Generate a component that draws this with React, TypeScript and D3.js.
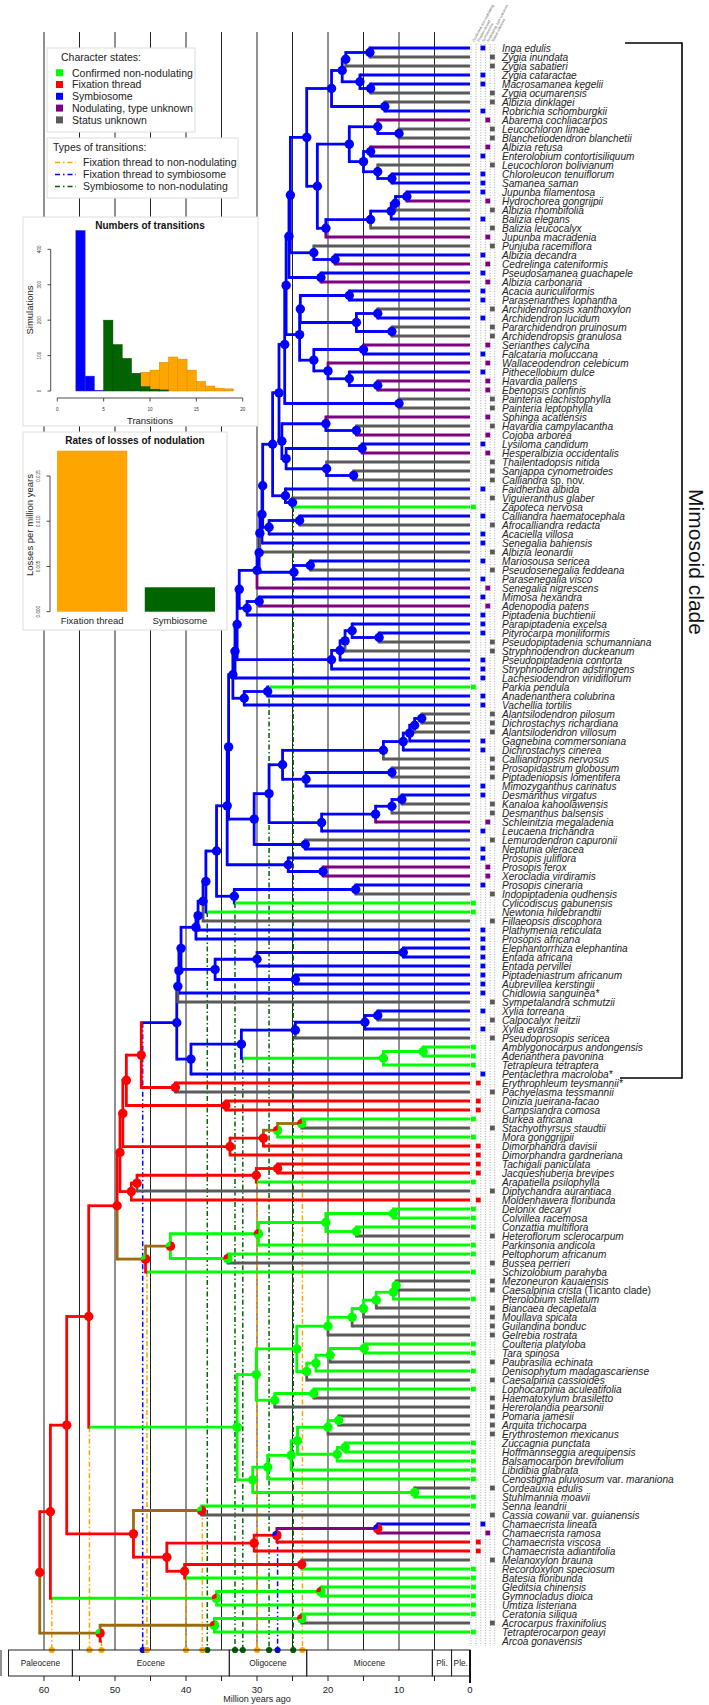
import React from "react";
import * as d3 from "d3";

// ---------------- DATA ----------------
const taxa = [
  "Inga edulis","Zygia inundata","Zygia sabatieri","Zygia cataractae","Macrosamanea kegelii","Zygia ocumarensis","Albizia dinklagei","Robrichia schomburgkii","Abarema cochliacarpos","Leucochloron limae",
  "Blanchetiodendron blanchetii","Albizia retusa","Enterolobium contortisiliquum","Leucochloron bolivianum","Chloroleucon tenuiflorum","Samanea saman","Jupunba filamentosa","Hydrochorea gongrijpii","Albizia rhombifolia","Balizia elegans",
  "Balizia leucocalyx","Jupunba macradenia","Punjuba racemiflora","Albizia decandra","Cedrelinga cateniformis","Pseudosamanea guachapele","Albizia carbonaria","Acacia auriculiformis","Paraserianthes lophantha","Archidendropsis xanthoxylon",
  "Archidendron lucidum","Pararchidendron pruinosum","Archidendropsis granulosa","Serianthes calycina","Falcataria moluccana","Wallaceodendron celebicum","Pithecellobium dulce","Havardia pallens","Ebenopsis confinis","Painteria elachistophylla",
  "Painteria leptophylla","Sphinga acatlensis","Havardia campylacantha","Cojoba arborea","Lysiloma candidum","Hesperalbizia occidentalis","Thailentadopsis nitida","Sanjappa cynometroides","Calliandra sp. nov.","Faidherbia albida",
  "Viguieranthus glaber","Zapoteca nervosa","Calliandra haematocephala","Afrocalliandra redacta","Acaciella villosa","Senegalia bahiensis","Albizia leonardii","Mariosousa sericea","Pseudosenegalia feddeana","Parasenegalia visco",
  "Senegalia nigrescens","Mimosa hexandra","Adenopodia patens","Piptadenia buchtienii","Parapiptadenia excelsa","Pityrocarpa moniliformis","Pseudopiptadenia schumanniana","Stryphnodendron duckeanum","Pseudopiptadenia contorta","Stryphnodendron adstringens",
  "Lachesiodendron viridiflorum","Parkia pendula","Anadenanthera colubrina","Vachellia tortilis","Alantsilodendron pilosum","Dichrostachys richardiana","Alantsilodendron villosum","Gagnebina commersoniana","Dichrostachys cinerea","Calliandropsis nervosus",
  "Prosopidastrum globosum","Piptadeniopsis lomentifera","Mimozyganthus carinatus","Desmanthus virgatus","Kanaloa kahoolawensis","Desmanthus balsensis","Schleinitzia megaladenia","Leucaena trichandra","Lemurodendron capuronii","Neptunia oleracea",
  "Prosopis juliflora","Prosopis ferox","Xerocladia virdiramis","Prosopis cineraria","Indopiptadenia oudhensis","Cylicodiscus gabunensis","Newtonia hildebrandtii","Fillaeopsis discophora","Plathymenia reticulata","Prosopis africana",
  "Elephantorrhiza elephantina","Entada africana","Entada pervillei","Piptadeniastrum africanum","Aubrevillea kerstingii","Chidlowia sanguinea*","Sympetalandra schmutzii","Xylia torreana","Calpocalyx heitzii","Xylia evansii",
  "Pseudoprosopis sericea","Amblygonocarpus andongensis","Adenanthera pavonina","Tetrapleura tetraptera","Pentaclethra macroloba*","Erythrophleum teysmannii*","Pachyelasma tessmannii","Dinizia jueirana-facao","Campsiandra comosa","Burkea africana",
  "Stachyothyrsus staudtii","Mora gonggrijpii","Dimorphandra davisii","Dimorphandra gardneriana","Tachigali paniculata","Jacqueshuberia brevipes","Arapatiella psilophylla","Diptychandra aurantiaca","Moldenhawera floribunda","Delonix decaryi",
  "Colvillea racemosa","Conzattia multiflora","Heteroflorum sclerocarpum","Parkinsonia andicola","Peltophorum africanum","Bussea perrieri","Schizolobium parahyba","Mezoneuron kauaiensis","Caesalpinia crista (Ticanto clade)","Pterolobium stellatum",
  "Biancaea decapetala","Moullava spicata","Guilandina bonduc","Gelrebia rostrata","Coulteria platyloba","Tara spinosa","Paubrasilia echinata","Denisophytum madagascariense","Caesalpinia cassioides","Lophocarpinia aculeatifolia",
  "Haematoxylum brasiletto","Hererolandia pearsonii","Pomaria jamesii","Arquita trichocarpa","Erythrostemon mexicanus","Zuccagnia punctata","Hoffmannseggia arequipensis","Balsamocarpon brevifolium","Libidibia glabrata","Cenostigma pluviosum var. maraniona",
  "Cordeauxia edulis","Stuhlmannia moavii","Senna leandrii","Cassia cowanii var. guianensis","Chamaecrista lineata","Chamaecrista ramosa","Chamaecrista viscosa","Chamaecrista adiantifolia","Melanoxylon brauna","Recordoxylon speciosum",
  "Batesia floribunda","Gleditsia chinensis","Gymnocladus dioica","Umtiza listeriana","Ceratonia siliqua","Acrocarpus fraxinifolius","Tetrapterocarpon geayi","Arcoa gonavensis",
];

// n = confirmed non-nodulating, f = fixation thread, s = symbiosome, p = nodulating type unknown, u = status unknown
const tipStates = (
  "s u u s s u u s p u u p s u s s s p u s " +
  "u p u s p s p s s u s u u p s p s p p u " +
  "u p u p s p u u u s u n s u s s u s u s " +
  "p s p s s s u u s s s n s s u u u s s u " +
  "u u s s u u p s u s s p p s u n n u s s " +
  "s s s s s s u s u s u n n n s f u f f n " +
  "u n f f f f n u f n n n u n n u n u u n " +
  "u u u u n n u n u n u u u u u n n n n n " +
  "u n n u s p f f u n n n n n n u n"
).trim().split(/\s+/);

// Tree clades (Newick-like): leaves = taxon indices; internal label = [~stemColour] age(Ma) + state letters; "@age t" = transition on the stem
const ingaTop = "((((0,1)14.1s,2)17.5s,(3,(4,5)14s)15.5s)18s,(6,7)12s)19.5s";
const samaneaClade = "((8,(9,10)10s)13s,((11,12)14s,(13,(14,15)11s)13s)15s)17s";
const hydroClade = "(((((16,17)8.9s,18)10.5s,19)11.1s,20)14s,21)20.3s";
const cedrelClade = "(22,(23,24)19s)22s";
const pseudosamClade = "(25,26)21s";
const acaciaClade = "((27,28)17s,((29,30)13s,(31,32)11s)16s)23.9s";
const serianthesClade = "((33,34)15s,(35,(36,(37,38)13s)17s)20s)22s";
const painteriaClade = "(39,40)10s";
const lysilomaClade = "((41,(42,43)16s)20.3s,((44,45)15.2s,(46,(47,48)16.4s)20.2s)25.9s)26.5s";
const zapotecaClade = "(49,(50,51@24.9g)25s)26s";
const afrocalClade = "((52,53)24s,54)28.3s";
const senegaliaClade = "((57,58)22.5s,59)24.8s";
const mimosaClade = "((61,62)29.7s,63)31.4s";
const piptClade = "((((64,(65,66)12.8s)16.6s,67)17.6s,68)18.3s,69)19.5s";
const parkiaClade = "((71@28.3g,72)28.5s,73)31.8s";
const dichroClade = "(((((74,75)6.8s,76)7.8s,77)8.5s,78)9.4s,79)12.2s";
const prosopidClade = "((80,81)11s,82)23.1s";
const desmanClade = "((((83,84)9.6s,85)11s,86)13.3s,87)20.9s";
const neptClade = "(88,89)23.2s";
const prosFerox = "(90,(91,92)20.7s)25.6s";
const cylicClade = "((93,94)16.1s,95@33.1g)33.2s";
const entadaClade = "(((100,101)9.4s,102)30s,(103,104)24.6s)35.9s";
const xyliaClade = "(((107,108)13s,109)14.8s,110)24.6s";
const adenClade = "((111,112)6.6n,113)12.2n@32g";
const burkeaClade = "((((119,120)~b23.7nf@23.6o,121)~b27.1nf,122)29.1f,123)33.8f";
const tachigaliClade = "((((124,125)27.1f,126@30o)30.1f,127)46.9f,128)47.7f";
const peltoClade = "(((129,130)10.8n,(131,132)16n)20.3n,133)29.8nf";
const caesA = "((((((137,138)10.4n,139)10.8n,140)13.2n,141)15n,142)16.6n,143)20n";
const caesB = "((((144,145)14.9n,146)19.7n,147)21.7n,148)23n";
const caesC = "((149,150)22n,151)27.5n";
const caesD = "(((152,153)18.5n,154)20n,((155,156)17.6n,157)18.7n)24.3n";
const cassiaClade = "(162,163)~b37.8fn@37.7o";
const chamaeClade = "(((164,165)~p13fs,166)27.2fs@27.1b,167)30.4f";
const melanoClade = "((168,169)23.7f,170@40o)40.2f";
const gleditsiaClade = "((171,172)21nf,173)35.7nf@58.9o";
const arcoaClade = "(((174,175)23.7nf,176)~b36nf,177@51.9o)~b52.1fn";

const join = (a, b, label) => `(${a},${b})${label}`;
const ingoidTop = join(ingaTop, join(samaneaClade, hydroClade, "21.5s"), "23s");
const spineA = join(join(ingoidTop, cedrelClade, "25.3s"), pseudosamClade, "25.5s");
const spineB = join(join(spineA, join(acaciaClade, serianthesClade, "24s"), "25.9s"), painteriaClade, "26.1s");
const spineC = join(join(join(spineB, lysilomaClade, "26.9s"), zapotecaClade, "27.8s"), afrocalClade, "29.2s");
const spineD = join(join(join(join(join(spineC, "55", "29.3s"), "56", "29.6s"), senegaliaClade, "29.7s"), "60", "30s"), mimosaClade, "32.5s");
const mimCore = join(join(join(spineD, piptClade, "32.8s"), "70", "33.1s"), parkiaClade, "33.4s");
const m403 = join(join(join(dichroClade, prosopidClade, "26.4s"), desmanClade, "28.3s"), neptClade, "30.4s");
const m322 = join(join(mimCore, m403, "34s"), prosFerox, "34.2s");
const mimSpine = join(join(join(join(join(join(join(join(m322, cylicClade, "35.7s"), "96@37g", "37.2s"), "97", "37.6s"), "98", "38.3s"), "99", "38.6s"), entadaClade, "40.7s"), "105", "41s"), "106", "41.15s");
const mimosoid = join(mimSpine, join(join(xyliaClade, adenClade, "32.2s"), "114", "39.3s"), "41.3s@46.1b");
const dimorClade = join(join(join(mimosoid, "(115,116)41.5f", "46.3f"), "(117,118)34.4f", "48.4f"), burkeaClade, "48.9f");
const caesGroup = join(join(join(caesA, caesB, "24.4n"), caesC, "30.1n"), join(join(join(caesD, "158", "25.2n"), "159", "28.5n"), "(160,161)7.8n", "30.6n"), "32.8n@53.6o");
const peltoGroup = join(join(peltoClade, "(134,135)34.1nf", "~b42.2fn"), "136@45.5o", "~b45.7fn");
const nF = join(dimorClade, tachigaliClade, "49.3f");
const nFG = join(nF, peltoGroup, "49.7f");
const nH = join(nFG, caesGroup, "53.7f");
const nJ = join(cassiaClade, join(chamaeClade, melanoClade, "42.7f"), "47.4f");
const treeNewick = join(join(join(nH, nJ, "56.8f"), gleditsiaClade, "59.1f"), arcoaClade, "60.6f");

// histogram of numbers of transitions (bins of width 1 starting at given value)
const blueStart = 2;
const blueCounts = [453, 42, 2];
const orangeStart = 9;
const orangeCounts = [53, 59, 81, 96, 90, 59, 27, 14, 8, 6];
const greenStart = 5;
const greenCounts = [200, 131, 92, 50, 12, 5, 3];
const histTicksX = [0, 5, 10, 15, 20];
const histTicksY = [0, 100, 200, 300, 400];

const rateCats = ["Fixation thread", "Symbiosome"];
const rateValues = [0.0178, 0.0027];
const rateTicks = [0, 0.005, 0.01, 0.015];

const epochs = [
  { name: "Paleocene", from: 65, to: 56 },
  { name: "Eocene", from: 56, to: 33.9 },
  { name: "Oligocene", from: 33.9, to: 23 },
  { name: "Miocene", from: 23, to: 5.3 },
  { name: "Pli.", from: 5.3, to: 2.6 },
  { name: "Ple.", from: 2.6, to: 0 },
];
const gridAges = [5, 10, 15, 20, 25, 30, 35, 40, 45, 50, 55, 60];
const axisLabels = [0, 10, 20, 30, 40, 50, 60];

const stateLegend = [
  { k: "n", label: "Confirmed non-nodulating" },
  { k: "f", label: "Fixation thread" },
  { k: "s", label: "Symbiosome" },
  { k: "p", label: "Nodulating, type unknown" },
  { k: "u", label: "Status unknown" },
];
const transLegend = [
  { k: "o", label: "Fixation thread to non-nodulating" },
  { k: "b", label: "Fixation thread to symbiosome" },
  { k: "g", label: "Symbiosome to non-nodulating" },
];

// ---------------- STYLE ----------------
const COL = { n: "#00FF00", f: "#FF0000", s: "#0000FF", p: "#800080", u: "#5A5A5A", b: "#9C6B0E" };
const TCOL = { o: "#FFA500", b: "#0000FF", g: "#006400" };
const FONT = "'Liberation Sans', Arial, Helvetica, sans-serif";
const BRANCH_W = 2.8;

// ---------------- PARSER ----------------
function parseTree(src) {
  const s = src.replace(/\s+/g, "");
  let i = 0;
  const num = () => {
    const m = /^\d+(\.\d+)?/.exec(s.slice(i));
    if (!m) return 0;
    i += m[0].length;
    return parseFloat(m[0]);
  };
  const node = () => {
    let n;
    if (s[i] === "(") {
      i++;
      const ch = [node()];
      while (s[i] === ",") { i++; ch.push(node()); }
      i++;
      n = { children: ch, age: 0, pie: "s" };
      if (s[i] === "~") { n.stem = s[i + 1]; i += 2; }
      n.age = num();
      let p = "";
      while (i < s.length && /[a-z]/.test(s[i])) p += s[i++];
      n.pie = p || "s";
    } else {
      const t = num();
      n = { children: [], tip: t, age: 0, pie: tipStates[t] };
    }
    if (s[i] === "@") { i++; const a = num(); n.trans = { age: a, type: s[i++] }; }
    return n;
  };
  return node();
}

const xAge = d3.scaleLinear().domain([0, 60]).range([470, 44]);
const yTip = d3.scaleLinear().domain([0, 177]).range([48, 1641]);
const AXIS_Y = 1650;

function layoutTree() {
  const root = parseTree(treeNewick);
  const setY = (n) => {
    if (!n.children.length) { n.y = yTip(n.tip); return n.y; }
    const ys = n.children.map(setY);
    n.y = (ys[0] + ys[ys.length - 1]) / 2;
    return n.y;
  };
  setY(root);
  const segs = [], verts = [], nodes = [], dashes = [];
  const walk = (n) => {
    if (!n.children.length) return;
    for (const c of n.children) {
      const childCol = COL[c.tip !== undefined ? tipStates[c.tip] : c.pie[0]];
      const fromCol = c.stem ? COL[c.stem] : COL[n.pie[0]];
      let start;
      if (c.trans && n.age > c.trans.age && c.trans.age > c.age) {
        segs.push({ a1: n.age, a2: c.trans.age, y: c.y, color: fromCol });
        segs.push({ a1: c.trans.age, a2: c.age, y: c.y, color: childCol });
        start = fromCol;
      } else {
        const col = c.stem ? COL[c.stem] : childCol;
        segs.push({ a1: n.age, a2: c.age, y: c.y, color: col });
        start = col;
      }
      verts.push({ a: n.age, y1: n.y, y2: c.y, color: start });
      if (c.trans) dashes.push({ age: c.trans.age, y: c.y, type: c.trans.type });
      walk(c);
    }
    nodes.push(n);
  };
  walk(root);
  return { segs, verts, nodes, dashes };
}

const pieGen = d3.pie().sort(null).value((d) => d.v);
const arcGen = d3.arc().innerRadius(0).outerRadius(4.7);

function TaxonLabel({ name, y }) {
  const words = name.split(" ");
  const plain = new Set(["var.", "sp.", "nov.", "(Ticanto", "clade)"]);
  return (
    <text x={502} y={y + 3.5} fontSize={10.1} fontFamily={FONT} fill="#222">
      {words.map((w, i) => (
        <tspan key={i} fontStyle={plain.has(w) ? "normal" : "italic"}>{(i ? " " : "") + w}</tspan>
      ))}
    </text>
  );
}

export default function App() {
  const { segs, verts, nodes, dashes } = layoutTree();
  const colX = { n: 473.4, f: 478.3, s: 482.9, p: 487.8, u: 492.4 };
  const dotLinesX = [471, 476, 480.8, 485.4, 490.1, 494.8];

  const hx = d3.scaleLinear().domain([0, 20]).range([57.3, 242.7]);
  const hy = d3.scaleLinear().domain([0, 400]).range([391, 249.3]);
  const rx = d3.scaleBand().domain(rateCats).range([50, 222]).paddingInner(0.2).paddingOuter(0.08);
  const ry = d3.scaleLinear().domain([0, 0.015]).range([611.7, 476]);

  const histBars = (start, counts, fill, stroke) =>
    counts.map((c, i) => (
      <rect key={fill + i} x={hx(start + i)} width={hx(start + i + 1) - hx(start + i)} y={hy(c)} height={hy(0) - hy(c)} fill={fill} stroke={stroke} strokeWidth={0.5} />
    ));

  return (
    <svg width={709} height={1705} viewBox="0 0 709 1705" style={{ position: "absolute", left: 0, top: 0, background: "#fff" }} fontFamily={FONT}>
      <rect x={0} y={0} width={709} height={1705} fill="#fff" />
      {gridAges.map((a) => (
        <line key={"g" + a} x1={xAge(a)} x2={xAge(a)} y1={32} y2={AXIS_Y} stroke="#222" strokeWidth={1} />
      ))}

      {dashes.map((d, i) => (
        <line key={"d" + i} x1={xAge(d.age)} x2={xAge(d.age)} y1={d.y} y2={AXIS_Y} stroke={TCOL[d.type]} strokeWidth={1.5} strokeDasharray="5,2.5,1.5,2.5" />
      ))}

      {verts.map((v, i) => (
        <line key={"v" + i} x1={xAge(v.a)} x2={xAge(v.a)} y1={v.y1} y2={v.y2} stroke={v.color} strokeWidth={BRANCH_W} strokeLinecap="square" />
      ))}
      {segs.map((s, i) => (
        <line key={"s" + i} x1={xAge(s.a1)} x2={xAge(s.a2)} y1={s.y} y2={s.y} stroke={s.color} strokeWidth={BRANCH_W} />
      ))}

      {nodes.map((n, i) => {
        const letters = n.pie.split("");
        const vals = letters.length === 1 ? [1] : letters.map((_, j) => (j === 0 ? 0.72 : 0.28 / (letters.length - 1)));
        const arcs = pieGen(letters.map((l, j) => ({ l, v: vals[j] })));
        return (
          <g key={"n" + i} transform={`translate(${xAge(n.age)},${n.y})`}>
            {letters.length === 1 ? (
              <circle r={4.7} fill={COL[letters[0]]} />
            ) : (
              arcs.map((a, j) => <path key={j} d={arcGen(a)} fill={COL[a.data.l]} />)
            )}
          </g>
        );
      })}

      {dashes.map((d, i) => (
        <circle key={"dd" + i} cx={xAge(d.age)} cy={AXIS_Y} r={3.1} fill={TCOL[d.type]} />
      ))}

      {dotLinesX.map((x, i) => (
        <line key={"dl" + i} x1={x} x2={x} y1={44} y2={1646} stroke="#777" strokeWidth={0.6} strokeDasharray="1,1.6" />
      ))}
      {tipStates.map((st, i) => (
        <rect key={"sq" + i} x={colX[st] - 2.4} y={yTip(i) - 2.4} width={4.8} height={4.8} fill={COL[st]} />
      ))}
      {stateLegend.map((d, i) => (
        <text key={"hdr" + i} transform={`translate(${colX[d.k] + 1},42) rotate(-62)`} fontSize={3.6} fill="#666" textAnchor="start">
          {d.label}
        </text>
      ))}

      {taxa.map((t, i) => (
        <TaxonLabel key={"t" + i} name={t} y={yTip(i)} />
      ))}

      <path d={`M625,43 H682 V${yTip(114) + 4} H620`} fill="none" stroke="#000" strokeWidth={1.6} />
      <text transform="translate(695,562) rotate(90)" fontSize={21} textAnchor="middle" dominantBaseline="middle" fill="#111">
        Mimosoid clade
      </text>

      <rect x={47} y={48} width={148} height={84} fill="#fff" stroke="#ddd" strokeWidth={1} />
      <text x={61} y={61} fontSize={10.5} fill="#222">Character states:</text>
      {stateLegend.map((d, i) => (
        <g key={"sl" + i}>
          <rect x={56} y={69.2 + i * 11.8} width={7} height={7} fill={COL[d.k]} />
          <text x={72} y={76.5 + i * 11.8} fontSize={10.5} fill="#222">{d.label}</text>
        </g>
      ))}
      <rect x={47} y={138} width={191} height={60} fill="#fff" stroke="#ddd" strokeWidth={1} />
      <text x={53} y={151} fontSize={10.5} fill="#222">Types of transitions:</text>
      {transLegend.map((d, i) => (
        <g key={"tl" + i}>
          <line x1={55} x2={76} y1={162.5 + i * 12} y2={162.5 + i * 12} stroke={TCOL[d.k]} strokeWidth={1.4} strokeDasharray="5,3,1.5,3" />
          <text x={83} y={166.3 + i * 12} fontSize={10.5} fill="#222">{d.label}</text>
        </g>
      ))}

      <rect x={23} y={217} width={235} height={209} fill="#fff" stroke="#ddd" strokeWidth={1} />
      <text x={150} y={229} fontSize={10} fontWeight="bold" textAnchor="middle" fill="#111">Numbers of transitions</text>
      {histBars(blueStart, blueCounts, "#0000FF", "#3030c0")}
      {histBars(orangeStart, orangeCounts, "#FFA500", "#d88a00")}
      {histBars(greenStart, greenCounts, "#006400", "#004a00")}
      <line x1={50.7} x2={50.7} y1={hy(0)} y2={hy(400)} stroke="#222" strokeWidth={0.8} />
      {histTicksY.map((t) => (
        <g key={"hy" + t}>
          <line x1={47.5} x2={50.7} y1={hy(t)} y2={hy(t)} stroke="#222" strokeWidth={0.8} />
          <text transform={`translate(40.5,${hy(t)}) rotate(-90)`} fontSize={4.6} textAnchor="middle" fill="#333">{t}</text>
        </g>
      ))}
      <line x1={hx(0)} x2={hx(20)} y1={398} y2={398} stroke="#222" strokeWidth={0.8} />
      {histTicksX.map((t) => (
        <g key={"hx" + t}>
          <line x1={hx(t)} x2={hx(t)} y1={398} y2={401.5} stroke="#222" strokeWidth={0.8} />
          <text x={hx(t)} y={411} fontSize={4.6} textAnchor="middle" fill="#333">{t}</text>
        </g>
      ))}
      <text x={150} y={424} fontSize={9.5} textAnchor="middle" fill="#222">Transitions</text>
      <text transform="translate(33,310) rotate(-90)" fontSize={9.5} textAnchor="middle" fill="#222">Simulations</text>

      <rect x={23} y={432} width={204} height={198} fill="#fff" stroke="#ddd" strokeWidth={1} />
      <text x={135} y={443.5} fontSize={10} fontWeight="bold" textAnchor="middle" fill="#111">Rates of losses of nodulation</text>
      {rateCats.map((c, i) => (
        <g key={"rb" + i}>
          <rect x={rx(c)} width={rx.bandwidth()} y={ry(rateValues[i])} height={ry(0) - ry(rateValues[i])} fill={i === 0 ? "#FFA500" : "#006400"} />
          <text x={rx(c) + rx.bandwidth() / 2} y={623.5} fontSize={9.5} textAnchor="middle" fill="#222">{c}</text>
        </g>
      ))}
      <line x1={50} x2={50} y1={ry(0)} y2={ry(0.015)} stroke="#222" strokeWidth={0.8} />
      {rateTicks.map((t) => (
        <g key={"ry" + t}>
          <line x1={46.5} x2={50} y1={ry(t)} y2={ry(t)} stroke="#222" strokeWidth={0.8} />
          <text transform={`translate(40,${ry(t)}) rotate(-90)`} fontSize={4.6} textAnchor="middle" fill="#333">{t.toFixed(3)}</text>
        </g>
      ))}
      <text transform="translate(33,525) rotate(-90)" fontSize={9.5} textAnchor="middle" fill="#222">Losses per million years</text>

      <line x1={1} x2={1} y1={AXIS_Y} y2={1676} stroke="#222" strokeWidth={1} />
      {epochs.map((e) => (
        <g key={e.name}>
          <rect x={xAge(e.from)} y={AXIS_Y} width={xAge(e.to) - xAge(e.from)} height={26} fill="none" stroke="#222" strokeWidth={1} />
          <text x={(xAge(e.from) + xAge(e.to)) / 2} y={1666} fontSize={8.3} textAnchor="middle" fill="#222">{e.name}</text>
        </g>
      ))}
      <line x1={470} x2={470} y1={AXIS_Y} y2={1683} stroke="#111" strokeWidth={2} />
      {d3.range(0, 61, 5).map((a) => (
        <line key={"tk" + a} x1={xAge(a)} x2={xAge(a)} y1={1676} y2={1681} stroke="#222" strokeWidth={1} />
      ))}
      {axisLabels.map((a) => (
        <text key={"al" + a} x={xAge(a)} y={1693} fontSize={9.5} textAnchor="middle" fill="#222">{a}</text>
      ))}
      <text x={xAge(30)} y={1702} fontSize={9} textAnchor="middle" fill="#222">Million years ago</text>
    </svg>
  );
}
